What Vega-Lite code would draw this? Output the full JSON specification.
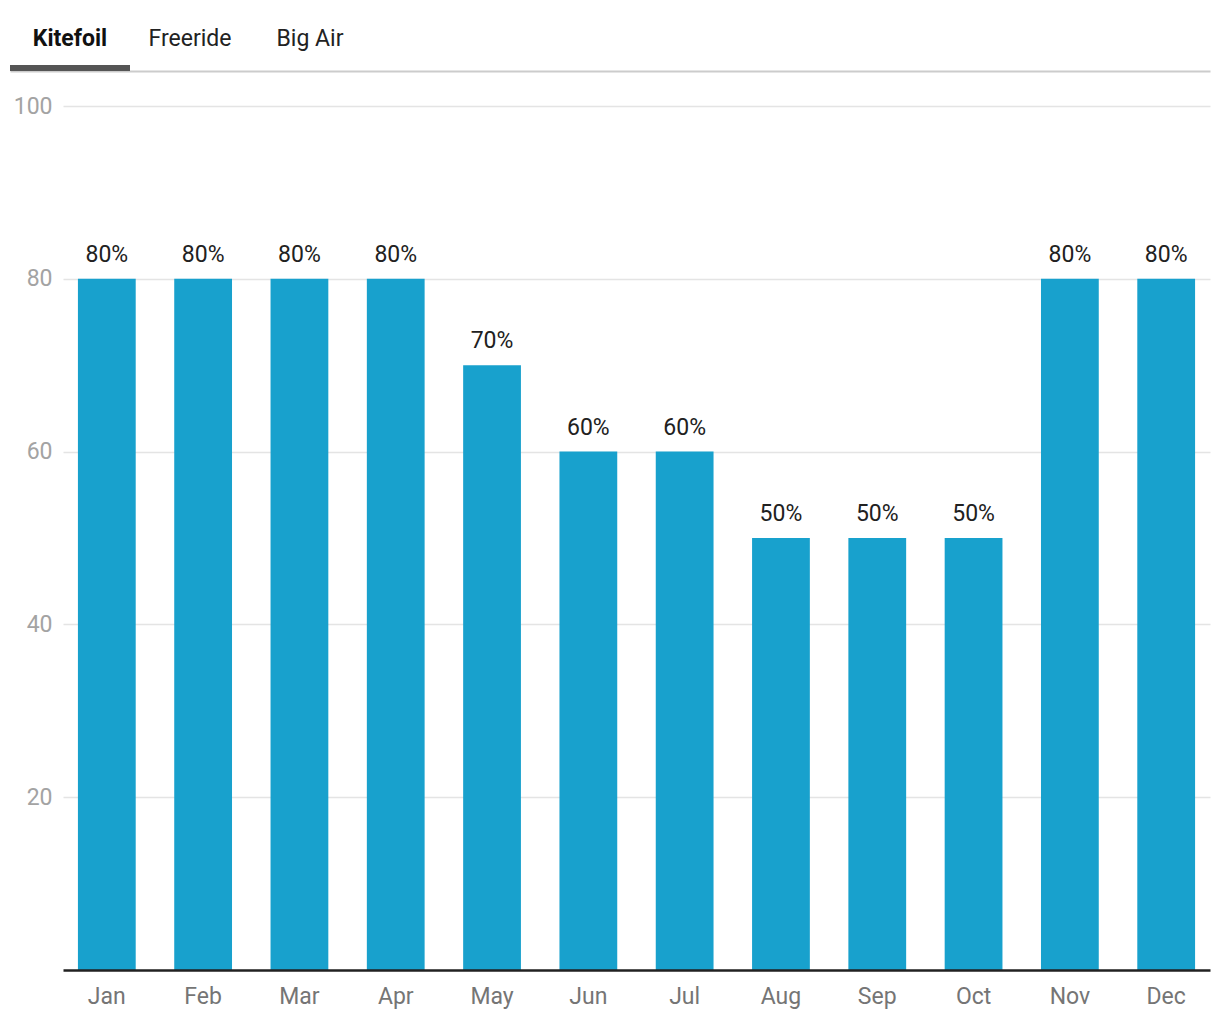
{
  "$schema": "https://vega.github.io/schema/vega-lite/v6.json",
  "padding": {"left": 10, "top": 28, "right": 10, "bottom": 10},
  "spacing": 35,
  "bounds": "flush",
  "config": {
    "font": "Roboto",
    "view": {"stroke": null},
    "axis": {"labelFont": "Roboto", "titleFont": "Roboto"}
  },
  "vconcat": [
    {
      "width": 1147,
      "height": 6,
      "data": {"values": [
        {"tab": "Kitefoil", "active": true},
        {"tab": "Freeride", "active": false},
        {"tab": "Big Air", "active": false}
      ]},
      "resolve": {"scale": {"x": "independent"}, "axis": {"x": "independent"}},
      "layer": [
        {
          "mark": {"type": "rule", "opacity": 0},
          "encoding": {
            "x": {
              "field": "tab",
              "type": "nominal",
              "sort": null,
              "scale": {"type": "point", "domain": ["Kitefoil", "Freeride", "Big Air"], "range": [-53, 1147]},
              "axis": {
                "orient": "bottom",
                "labels": false,
                "ticks": false,
                "grid": false,
                "title": null,
                "domainColor": "#cccccc",
                "domainWidth": 2,
                "offset": 0
              }
            }
          }
        },
        {
          "encoding": {
            "x": {
              "field": "tab",
              "type": "nominal",
              "sort": null,
              "scale": {
                "type": "band",
                "domain": ["Kitefoil", "Freeride", "Big Air"],
                "range": [-53, 307],
                "paddingInner": 0,
                "paddingOuter": 0
              },
              "axis": null
            }
          },
          "layer": [
            {
              "transform": [{"filter": "datum.active"}],
              "mark": {"type": "bar", "color": "#555555"}
            },
            {
              "transform": [{"filter": "datum.active"}],
              "mark": {"type": "text", "fontSize": 23, "fontWeight": "bold", "color": "#111111", "baseline": "middle", "dy": -29},
              "encoding": {"text": {"field": "tab"}}
            },
            {
              "transform": [{"filter": "!datum.active"}],
              "mark": {"type": "text", "fontSize": 23, "fontWeight": "normal", "color": "#222222", "baseline": "middle", "dy": -29},
              "encoding": {"text": {"field": "tab"}}
            }
          ]
        }
      ]
    },
    {
      "width": 1147,
      "height": 864,
      "data": {"values": [
        {"month": "Jan", "value": 80},
        {"month": "Feb", "value": 80},
        {"month": "Mar", "value": 80},
        {"month": "Apr", "value": 80},
        {"month": "May", "value": 70},
        {"month": "Jun", "value": 60},
        {"month": "Jul", "value": 60},
        {"month": "Aug", "value": 50},
        {"month": "Sep", "value": 50},
        {"month": "Oct", "value": 50},
        {"month": "Nov", "value": 80},
        {"month": "Dec", "value": 80}
      ]},
      "transform": [{"calculate": "datum.value + '%'", "as": "label"}],
      "encoding": {
        "x": {
          "field": "month",
          "type": "nominal",
          "sort": null,
          "scale": {"paddingInner": 0.4, "paddingOuter": 0.155},
          "axis": {
            "title": null,
            "labelAngle": 0,
            "labelFontSize": 23,
            "labelColor": "#757575",
            "ticks": false,
            "labelPadding": 15,
            "domainColor": "#212121",
            "domainWidth": 2.5,
            "zindex": 1
          }
        },
        "y": {
          "field": "value",
          "type": "quantitative",
          "scale": {"domain": [0, 100], "nice": false},
          "axis": {
            "title": null,
            "values": [20, 40, 60, 80, 100],
            "labelFontSize": 23,
            "labelColor": "#a3a3a3",
            "ticks": false,
            "domain": false,
            "labelPadding": 11,
            "gridColor": "#e4e4e4",
            "gridWidth": 1.5
          }
        }
      },
      "layer": [
        {"mark": {"type": "bar", "color": "#18a1cd"}},
        {
          "mark": {"type": "text", "fontSize": 23, "color": "#212121", "baseline": "alphabetic", "dy": -17},
          "encoding": {"text": {"field": "label"}}
        }
      ]
    }
  ]
}
